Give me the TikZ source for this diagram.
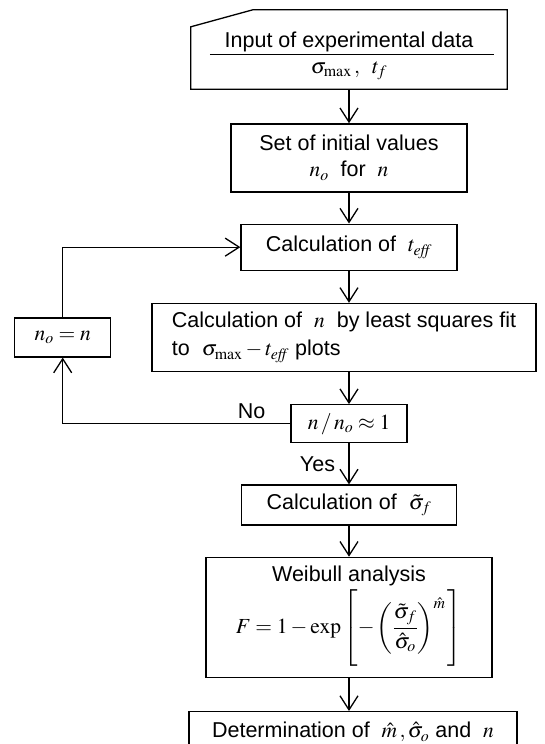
\documentclass[tikz,border=0pt]{standalone}
\usepackage{amsmath}
\usepackage{mathptmx}
\usepackage[no-math]{fontspec}
\setmainfont{Liberation Sans}
\usepackage{tikz}
\usetikzlibrary{arrows.meta, positioning}

\begin{document}
\begin{tikzpicture}[
    x=1pt, y=-1pt,
    font=\fontsize{21.5}{26}\selectfont,
    node distance=32pt,
    box/.style={rectangle, draw, line width=1.3pt, align=center,
                inner sep=2pt},
    inbox/.style={rectangle, align=center, inner sep=2pt,
                  minimum width=316pt, minimum height=79pt},
    lbl/.style={font=\fontsize{21.5}{26}\selectfont},
    arr/.style={-{Straight Barb[length=14pt, width=18pt]}, line width=1.3pt},
  ]
    \useasboundingbox (0,0) rectangle (544,744);

    \node[inbox] (input) at (349,49.5)
      {\rule{0pt}{28.5pt}Input of experimental data\\ $\sigma_{\max}\,,\;\; t_f$};
    \node[box, below=34pt of input, minimum width=236pt, minimum height=68pt] (init)
      {Set of initial values\\ $n_o$ \ for \ $n$};
    \node[box, below=31pt of init, minimum width=216pt, minimum height=46pt] (teff)
      {Calculation of \ $t_{\mathit{eff}}$};
    \node[box, below=of teff, xshift=-5pt, align=left,
          minimum width=384pt, minimum height=68pt] (fit)
      {Calculation of \ $n$ \ by least squares fit\\[2pt]
       to \ $\sigma_{\max} - t_{\mathit{eff}}$ plots};
    \node[box, left=40pt of fit, minimum width=96pt, minimum height=39pt] (noeq)
      {$n_o = n$};
    \node[box, below=of fit, xshift=5pt, minimum width=116pt, minimum height=38pt] (check)
      {$n \,/\, n_o \approx 1$};
    \node[box, below=41pt of check, minimum width=215pt, minimum height=40pt] (sigf)
      {Calculation of \ $\tilde{\sigma}_f$};
    \node[box, below=31pt of sigf, minimum width=286pt, minimum height=120pt] (weib)
      {Weibull analysis\\
       $F = 1 - \exp\left[-\left(\dfrac{\tilde{\sigma}_f}{\hat{\sigma}_o}\right)^{\hat{m}}
        \rule[-35pt]{0pt}{81pt}\right]$};
    \node[box, below=33pt of weib, xshift=4pt, minimum width=328pt, minimum height=41pt] (det)
      {Determination of \ $\hat{m}\,, \hat{\sigma}_o$ and \ $n$};

    % input box with slanted corner
    \draw[line width=1.3pt] (input.south west) -- ([yshift=-17pt]input.north west)
      -- ([xshift=62pt]input.north west) -- (input.north east)
      -- (input.south east) -- cycle;
    \draw[line width=0.8pt] ([xshift=19pt, yshift=-5pt]input.west)
      -- ([xshift=-13pt, yshift=-5pt]input.east);

    \draw[arr] (input) -- (init);
    \draw[arr] (init) -- (teff);
    \draw[arr] (teff.south) -- (teff.south |- fit.north);
    \draw[arr] (fit.south -| check.north) -- (check.north);
    \draw[arr] (check) -- (sigf)
      node[lbl, midway, left=10pt] {Yes};
    \draw[arr] (sigf) -- (weib);
    \draw[arr] (weib.south) -- (weib.south |- det.north);

    % loop back
    \draw[arr] (check.west) -| (noeq.south)
      node[lbl, pos=0.085, above=1pt] {No};
    \draw[arr] (noeq.north) |- (teff.west);
  \end{tikzpicture}
\end{document}
